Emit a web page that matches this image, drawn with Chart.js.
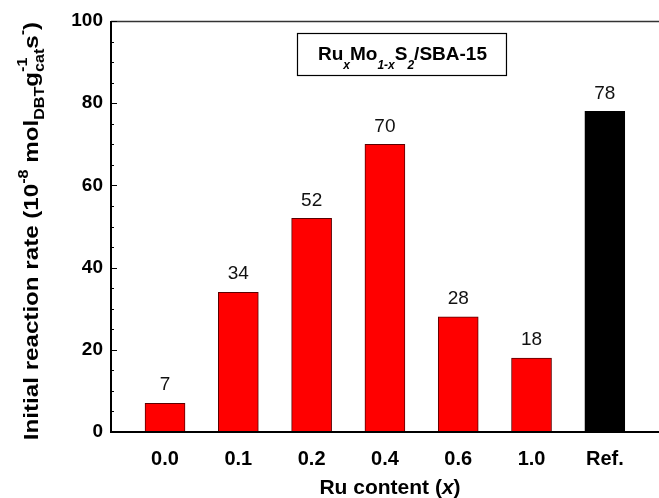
<!DOCTYPE html>
<html>
<head>
<meta charset="utf-8">
<script src="https://cdn.jsdelivr.net/npm/chart.js@4"></script>
<style>
  html, body { margin: 0; padding: 0; background: #fff; }
  #wrap { width: 659px; height: 498px; }
</style>
</head>
<body>
<div id="wrap"><canvas id="c" width="659" height="498"></canvas></div>
<script>
// Ru content categories and measured initial reaction rates
const categories = ['0.0', '0.1', '0.2', '0.4', '0.6', '1.0', 'Ref.'];
const rates = [7, 34, 52, 70, 28, 18, 78];
const barColors = ['#ff0000', '#ff0000', '#ff0000', '#ff0000', '#ff0000', '#ff0000', '#000000'];
const barEdges = ['#5a0000', '#5a0000', '#5a0000', '#5a0000', '#5a0000', '#5a0000', '#000000'];
const yTicks = [0, 20, 40, 60, 80, 100];

const FONT = '"Liberation Sans", Arial, sans-serif';

// Rich text helpers: normal runs, shifted super/subscripts, stacked sup+sub
function measureRuns(ctx, runs) {
  let w = 0;
  for (const r of runs) {
    if (r.stack) {
      ctx.font = r.stack.font;
      w += Math.max(ctx.measureText(r.stack.sup).width, ctx.measureText(r.stack.sub).width);
    } else {
      ctx.font = r.font;
      w += ctx.measureText(r.t).width;
    }
  }
  return w;
}
function drawRuns(ctx, runs, x, y) {
  ctx.textBaseline = 'alphabetic';
  ctx.textAlign = 'left';
  for (const r of runs) {
    if (r.stack) {
      ctx.font = r.stack.font;
      ctx.fillText(r.stack.sup, x, y + r.stack.supDy);
      ctx.fillText(r.stack.sub, x, y + r.stack.subDy);
      x += Math.max(ctx.measureText(r.stack.sup).width, ctx.measureText(r.stack.sub).width);
    } else {
      ctx.font = r.font;
      ctx.fillText(r.t, x, y + (r.dy || 0));
      x += ctx.measureText(r.t).width;
    }
  }
}

const TB = 'bold 21px ' + FONT;
const TS = 'bold 14px ' + FONT;

const yTitleRuns = [
  { t: 'Initial reaction rate (10', font: TB },
  { t: '-8', font: TS, dy: -10 },
  { t: ' mol', font: TB },
  { t: 'DBT', font: TS, dy: 6 },
  { t: 'g', font: TB },
  { stack: { sup: '-1', sub: 'cat', font: TS, supDy: -11, subDy: 6 } },
  { t: 's', font: TB },
  { t: '-', font: TS, dy: -11 },
  { t: ')', font: TB }
];

const BB = 'bold 19px ' + FONT;
const BS = 'italic bold 12px ' + FONT;
const boxRuns = [
  { t: 'Ru', font: BB },
  { t: 'x', font: BS, dy: 9 },
  { t: 'Mo', font: BB },
  { t: '1-x', font: BS, dy: 9 },
  { t: 'S', font: BB },
  { t: '2', font: BS, dy: 9 },
  { t: '/SBA-15', font: BB }
];

const xTitleRuns = [
  { t: 'Ru content (', font: 'bold 21px ' + FONT },
  { t: 'x', font: 'italic bold 21px ' + FONT },
  { t: ')', font: 'bold 21px ' + FONT }
];

const decorations = {
  id: 'decorations',
  afterDatasetsDraw(chart) {
    const ctx = chart.ctx;
    const a = chart.chartArea;
    const ys = chart.scales.y;
    ctx.save();

    // frame: top line, left and bottom axes
    ctx.strokeStyle = '#333';
    ctx.lineWidth = 1.5;
    ctx.beginPath();
    ctx.moveTo(a.left, a.top + 0.5);
    ctx.lineTo(a.right, a.top + 0.5);
    ctx.stroke();
    ctx.strokeStyle = '#000';
    ctx.lineWidth = 2;
    ctx.beginPath();
    ctx.moveTo(a.left, a.top);
    ctx.lineTo(a.left, a.bottom);
    ctx.lineTo(a.right, a.bottom);
    ctx.stroke();

    // inward y ticks: major every 20, minor every 5
    ctx.lineWidth = 1;
    for (let v = 0; v <= 100; v += 5) {
      const py = Math.round(ys.getPixelForValue(v)) + 0.5;
      const len = v % 20 === 0 ? 6 : 3;
      ctx.beginPath();
      ctx.moveTo(a.left, py);
      ctx.lineTo(a.left + len, py);
      ctx.stroke();
    }

    // value labels above bars
    ctx.fillStyle = '#111';
    ctx.font = '19px ' + FONT;
    ctx.textAlign = 'center';
    ctx.textBaseline = 'middle';
    const meta = chart.getDatasetMeta(0);
    meta.data.forEach((bar, i) => {
      ctx.fillText(String(rates[i]), bar.x, bar.y - 18);
    });

    // composition box
    ctx.fillStyle = '#000';
    const tw = measureRuns(ctx, boxRuns);
    const bx = 297, by = 33, bh = 42, bw = tw + 40;
    ctx.strokeStyle = '#000';
    ctx.lineWidth = 1.2;
    ctx.strokeRect(bx + 0.5, by + 0.5, bw, bh);
    drawRuns(ctx, boxRuns, bx + 21, by + 27);

    // x axis title
    const xw = measureRuns(ctx, xTitleRuns);
    drawRuns(ctx, xTitleRuns, 390 - xw / 2, 494);

    // y axis title (rotated, drawn slightly elongated)
    const sx = 1.15;
    const yw = measureRuns(ctx, yTitleRuns) * sx;
    ctx.translate(38, 231);
    ctx.rotate(-Math.PI / 2);
    ctx.translate(-yw / 2, 0);
    ctx.scale(sx, 1);
    drawRuns(ctx, yTitleRuns, 0, 0);

    ctx.restore();
  }
};

const chart = new Chart(document.getElementById('c'), {
  type: 'bar',
  data: {
    datasets: [{
      data: categories.map((c, i) => ({ x: i, y: rates[i] })),
      backgroundColor: barColors,
      borderColor: barEdges,
      borderWidth: 1,
      barThickness: 40
    }]
  },
  plugins: [decorations],
  options: {
    responsive: false,
    animation: false,
    devicePixelRatio: 1,
    layout: { padding: { top: 21, right: 0, left: 0, bottom: 0 } },
    plugins: { legend: { display: false }, tooltip: { enabled: false } },
    scales: {
      x: {
        type: 'linear',
        offset: false,
        min: -0.737,
        max: 6.739,
        grid: { display: false, drawTicks: false, offset: false },
        border: { display: false },
        afterBuildTicks(scale) {
          scale.ticks = categories.map((c, i) => ({ value: i }));
        },
        afterFit(scale) { scale.height = 66; },
        ticks: {
          autoSkip: false,
          maxRotation: 0,
          padding: 15,
          color: '#000',
          font: { family: FONT, size: 20, weight: 'bold' },
          callback: (v) => categories[v]
        }
      },
      y: {
        min: 0,
        max: 100,
        grid: { display: false, drawTicks: false },
        border: { display: false },
        afterBuildTicks(scale) {
          scale.ticks = yTicks.map(v => ({ value: v }));
        },
        afterFit(scale) { scale.width = 111; },
        ticks: {
          padding: 8,
          color: '#000',
          font: { family: FONT, size: 19, weight: 'bold' }
        }
      }
    }
  }
});
</script>
</body>
</html>
